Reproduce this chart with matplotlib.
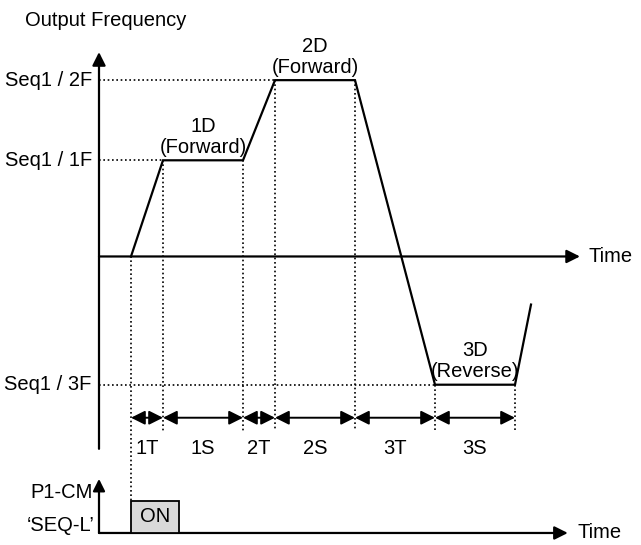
import matplotlib
matplotlib.use('Agg')
import matplotlib.pyplot as plt
from matplotlib.patches import Rectangle

plt.rcParams['font.family'] = ['Liberation Sans Narrow', 'Liberation Sans', 'DejaVu Sans']

## Datos del perfil (unidades arbitrarias de tiempo y frecuencia)
t_start = 2
seg_names = ['1T', '1S', '2T', '2S', '3T', '3S']
seg_len = [2, 5, 2, 5, 5, 5]
freq_levels = [6, 11, -8]          # Seq1/1F, Seq1/2F, Seq1/3F
level_names = ['Seq1 / 1F', 'Seq1 / 2F', 'Seq1 / 3F']
step_names = ['1D\n(Forward)', '2D\n(Forward)', '3D\n(Reverse)']
tail_point = (27, -3)

# limites de los ejes
x_axis_end = 30.06
y_axis_top = 12.75
y_axis_bot = -12.0
dim_y = -10.06
vline_bot = -10.9
lbl_y = -12.0
low_base = -17.25
low_top = -13.875
low_x_end = 29.3
on_len = 3
on_h = 2.0

## tiempos de quiebre
tb = [t_start]
for s in seg_len:
    tb.append(tb[-1] + s)

xs = [t_start]
ys = [0]
for k, f in enumerate(freq_levels):
    xs += [tb[2 * k + 1], tb[2 * k + 2]]
    ys += [f, f]
xs.append(tail_point[0])
ys.append(tail_point[1])

fig = plt.figure(figsize=(6.41, 5.45), dpi=100)
ax = fig.add_axes([0, 0, 1, 1])
ax.set_xlim(-6.1875, 33.875)
ax.set_ylim(-18.0, 16.0)
ax.axis('off')

FS = 14.5
lw_ax = 1.6

# ejes superiores
ax.annotate('', xy=(0, y_axis_top), xytext=(0, y_axis_bot),
            arrowprops=dict(arrowstyle='-|>', lw=lw_ax, color='k', mutation_scale=20,
                            shrinkA=0, shrinkB=0))
ax.annotate('', xy=(x_axis_end, 0), xytext=(0, 0),
            arrowprops=dict(arrowstyle='-|>', lw=lw_ax, color='k', mutation_scale=20,
                            shrinkA=0, shrinkB=0))
ax.text(x_axis_end + 0.55, 0, 'Time', fontsize=FS, va='center', ha='left')
ax.text(-4.65, 14.75, 'Output Frequency', fontsize=FS, va='center', ha='left')

# curva de frecuencia
ax.plot(xs, ys, color='k', lw=1.6, solid_joinstyle='miter')

dot = (0, (1, 1.6))
# lineas punteadas horizontales
for k, f in enumerate(freq_levels):
    ax.plot([0, tb[2 * k + 1]], [f, f], color='k', lw=1.2, ls=dot)
    ax.text(-0.45, f, level_names[k], fontsize=FS, va='center', ha='right')

# lineas punteadas verticales
for i, t in enumerate(tb):
    if i == 0:
        ax.plot([t, t], [0, low_base + on_h], color='k', lw=1.2, ls=dot)
    else:
        ax.plot([t, t], [ys[i], vline_bot], color='k', lw=1.2, ls=dot)

# flechas de cota
for i, name in enumerate(seg_names):
    ax.annotate('', xy=(tb[i + 1], dim_y), xytext=(tb[i], dim_y),
                arrowprops=dict(arrowstyle='<|-|>', lw=1.4, color='k', mutation_scale=21,
                                shrinkA=0, shrinkB=0))
    ax.text((tb[i] + tb[i + 1]) / 2, lbl_y, name, fontsize=FS, va='center', ha='center')

# rotulos de pasos
for k, name in enumerate(step_names):
    xc = (tb[2 * k + 1] + tb[2 * k + 2]) / 2
    ax.text(xc, freq_levels[k] + 0.2, name, fontsize=FS, va='bottom', ha='center',
            linespacing=1.15)

# diagrama inferior
ax.annotate('', xy=(0, low_top), xytext=(0, low_base),
            arrowprops=dict(arrowstyle='-|>', lw=lw_ax, color='k', mutation_scale=18,
                            shrinkA=0, shrinkB=0))
ax.annotate('', xy=(low_x_end, low_base), xytext=(0, low_base),
            arrowprops=dict(arrowstyle='-|>', lw=lw_ax, color='k', mutation_scale=20,
                            shrinkA=0, shrinkB=0))
ax.text(low_x_end + 0.6, low_base, 'Time', fontsize=FS, va='center', ha='left')
ax.add_patch(Rectangle((t_start, low_base), on_len, on_h, facecolor='#d9d9d9',
                       edgecolor='k', lw=1.3, zorder=3))
ax.text(t_start + on_len / 2, low_base + on_h / 2, 'ON', fontsize=FS, va='center',
        ha='center', zorder=4)
ax.text(-0.4, -14.7, 'P1-CM', fontsize=FS, va='center', ha='right')
ax.text(-0.3, -16.8, '\u2018SEQ-L\u2019', fontsize=FS, va='center', ha='right')

fig.savefig('out.png', dpi=100)
